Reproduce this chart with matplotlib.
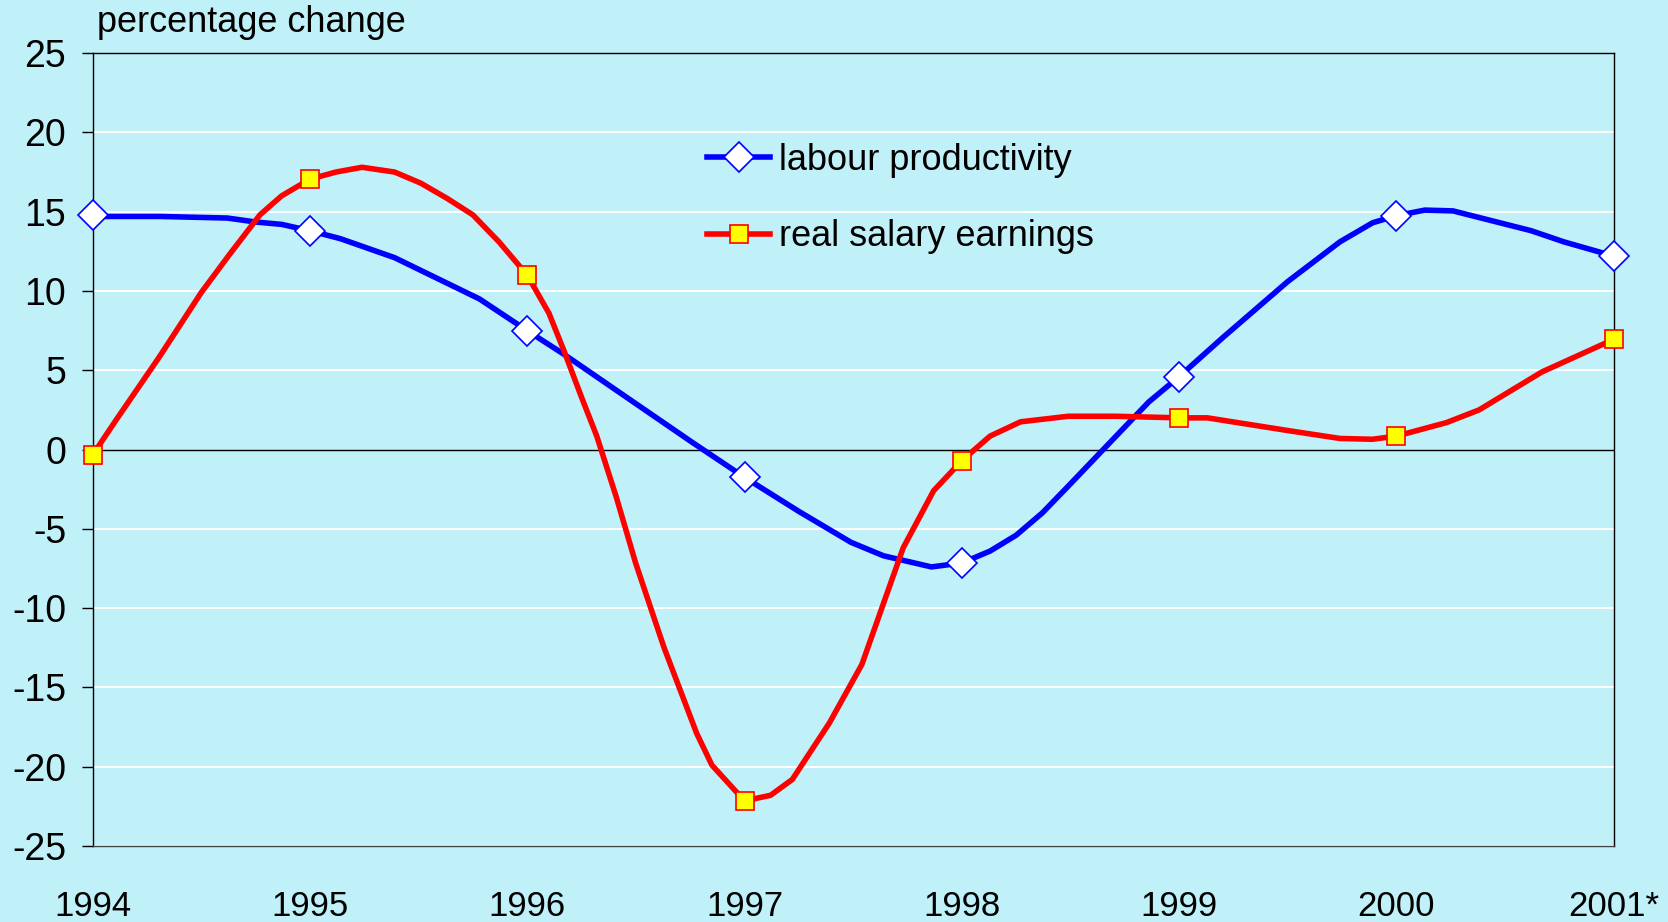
import numpy as np
import matplotlib.pyplot as plt

# labour productivity, % change
prod_x = [1994.0, 1994.06, 1994.31, 1994.62, 1994.75, 1994.87, 1995.0, 1995.14, 1995.39,
          1995.78, 1996.0, 1996.17, 1996.51, 1996.76, 1997.0, 1997.25, 1997.49, 1997.64,
          1997.86, 1998.0, 1998.13, 1998.25, 1998.37, 1998.49, 1998.64, 1998.86, 1999.0,
          1999.2, 1999.5, 1999.74, 1999.89, 2000.0, 2000.13, 2000.26, 2000.62, 2000.77, 2001.0]
prod_y = [14.8, 14.7, 14.7, 14.6, 14.35, 14.2, 13.8, 13.3, 12.1,
          9.5, 7.5, 6.0, 2.8, 0.45, -1.75, -3.9, -5.85, -6.7,
          -7.4, -7.15, -6.4, -5.4, -4.0, -2.3, -0.15, 3.0, 4.6,
          7.05, 10.6, 13.1, 14.3, 14.75, 15.1, 15.05, 13.8, 13.1, 12.2]

# real salary earnings, % change
sal_x = [1994.0, 1994.11, 1994.31, 1994.50, 1994.63, 1994.77, 1994.87, 1995.0, 1995.12,
         1995.24, 1995.39, 1995.51, 1995.63, 1995.75, 1995.87, 1996.0, 1996.1, 1996.17,
         1996.25, 1996.32, 1996.41, 1996.50, 1996.63, 1996.78, 1996.85, 1997.0, 1997.12,
         1997.22, 1997.39, 1997.54, 1997.73, 1997.87, 1998.0, 1998.13, 1998.27, 1998.49,
         1998.71, 1999.0, 1999.13, 1999.5, 1999.74, 1999.89, 2000.0, 2000.23, 2000.38,
         2000.67, 2001.0]
sal_y = [-0.35, 1.9, 5.9, 9.9, 12.3, 14.8, 16.0, 17.05, 17.5,
         17.8, 17.5, 16.8, 15.85, 14.8, 13.1, 11.0, 8.6, 6.2,
         3.3, 0.85, -3.0, -7.2, -12.5, -17.9, -19.9, -22.15, -21.8,
         -20.8, -17.25, -13.55, -6.2, -2.6, -0.7, 0.85, 1.75, 2.1,
         2.1, 2.0, 2.0, 1.2, 0.7, 0.65, 0.85, 1.7, 2.5,
         4.9, 6.95]

years = [1994, 1995, 1996, 1997, 1998, 1999, 2000, 2001]
year_labels = ['1994', '1995', '1996', '1997', '1998', '1999', '2000', '2001*']
prod_marks = [14.8, 13.8, 7.5, -1.75, -7.15, 4.6, 14.75, 12.2]
sal_marks = [-0.35, 17.05, 11.0, -22.15, -0.7, 2.0, 0.85, 6.95]

bg = '#c0f0f8'
plt.rcParams['font.family'] = ['Liberation Sans', 'DejaVu Sans']
plt.rcParams['axes.unicode_minus'] = False

fig = plt.figure(figsize=(16.68, 9.22), dpi=100, facecolor=bg)
ax = fig.add_axes([0.0555, 0.0824, 0.912, 0.86])
ax.set_facecolor(bg)

for v in range(-25, 30, 5):
    if v != 0:
        ax.axhline(v, color='white', lw=1.5, zorder=1)
ax.axhline(0, color='black', lw=1, zorder=2)

lw = 4
ax.plot(prod_x, prod_y, color='#0000ff', lw=lw, zorder=3)
ax.plot(sal_x, sal_y, color='#ff0000', lw=lw, zorder=3)
ax.plot(years, prod_marks, ls='none', marker='D', ms=15, mfc='white', mec='#0000ff',
        mew=1.2, zorder=4, clip_on=False)
ax.plot(years, sal_marks, ls='none', marker='s', ms=13, mfc='#ffff00', mec='#ff0000',
        mew=1.2, zorder=4, clip_on=False)

# legend handles
h1, = ax.plot([], [], color='#0000ff', lw=lw, marker='D', ms=15, mfc='white', mec='#0000ff', mew=1.2)
h2, = ax.plot([], [], color='#ff0000', lw=lw, marker='s', ms=13, mfc='#ffff00', mec='#ff0000', mew=1.2)
ax.legend([h1, h2], ['labour productivity', 'real salary earnings'], loc='upper left',
          bbox_to_anchor=(0.404, 0.887), frameon=False, fontsize=26, handlelength=1.75,
          handletextpad=0.25, labelspacing=1.15, borderpad=0, borderaxespad=0)

ax.set_xlim(1994, 2001)
ax.set_ylim(-25, 25)
ax.set_yticks(range(-25, 30, 5))
ax.set_xticks(years)
ax.set_xticklabels(year_labels)
ax.tick_params(axis='y', direction='out', length=8, width=1, pad=11, labelsize=27)
ax.tick_params(axis='x', length=0, pad=32, labelsize=25)
for s in ax.spines.values():
    s.set_color('black')
    s.set_linewidth(1)
ax.spines['bottom'].set_color('#404040')

ax.text(0.003, 1.027, 'percentage change', transform=ax.transAxes, fontsize=26,
        ha='left', va='baseline')

fig.savefig('out.png', dpi=100, facecolor=bg)
